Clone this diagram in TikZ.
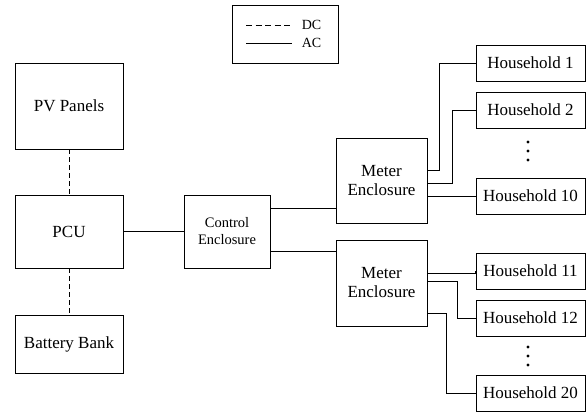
\documentclass[tikz,border=0pt]{standalone}
\usepackage{fontspec}
\setmainfont{Liberation Serif}
\usepackage{tikz}
\usetikzlibrary{positioning,calc}

\begin{document}
\begin{tikzpicture}[x=1pt, y=-1pt, line width=0.9pt,
    box/.style={rectangle, draw, minimum width=108pt, inner sep=2pt, font=\fontsize{17}{19}\selectfont, align=center},
    house/.style={rectangle, draw, minimum width=109pt, minimum height=36pt, inner sep=2pt, font=\fontsize{17}{19}\selectfont},
    dcline/.style={dash pattern=on 5pt off 3pt}]
\useasboundingbox (0,0) rectangle (587,416);

\node[box, minimum height=86pt] (pv) at (69,106) {PV Panels};
\node[box, minimum height=73pt] (pcu) at (69,231.5) {PCU};
\node[box, minimum height=58pt] (bat) at (69,344) {Battery Bank};
\node[box, minimum width=86pt, minimum height=73pt, font=\fontsize{14.5}{17}\selectfont] (ctrl) at (227,231.5) {Control\\Enclosure};
\node[box, minimum width=91pt, minimum height=85pt] (me1) at (381.5,180.5) {Meter\\Enclosure};
\node[box, minimum width=91pt, minimum height=86pt] (me2) at (381.5,283) {Meter\\Enclosure};

\node[house] (hh1) at (530.5,63) {Household 1};
\node[house] (hh2) at (530.5,110) {Household 2};
\node[house] (hh10) at (530.5,196) {Household 10};
\node[house] (hh11) at (530.5,271) {Household 11};
\node[house] (hh12) at (530.5,318) {Household 12};
\node[house] (hh20) at (530.5,393) {Household 20};

\foreach \y in {142,151,160,347,356,365}
  \fill (528,\y) circle (1.6);

\draw[dcline] (pv) -- (pcu);
\draw[dcline] (pcu) -- (bat);
\draw (pcu) -- (ctrl);

\coordinate (c1) at ($(ctrl.east)+(0,-23.5)$);
\coordinate (c2) at ($(ctrl.east)+(0,19.5)$);
\draw (c1) -- (c1 -| me1.west);
\draw (c2) -- (c2 -| me2.west);

\draw ($(me1.east)+(0,-10.5)$) -- ++(12,0) |- (hh1.west);
\draw ($(me1.east)+(0,2.5)$) -- ++(25,0) |- (hh2.west);
\draw (hh10.west -| me1.east) -- (hh10.west);

\draw ($(me2.east)+(0,-10)$) -- (hh11.west |- 0,273) -- (hh11.west);
\draw ($(me2.east)+(0,-2)$) -- ++(30,0) |- (hh12.west);
\draw ($(me2.east)+(0,30)$) -- ++(19,0) |- (hh20.west);

\node[draw, minimum width=106pt, minimum height=58pt] (legend) at (285,34) {};
\coordinate (dca) at (246,25);
\coordinate (aca) at (246,43);
\draw[dash pattern=on 6pt off 3.5pt] (dca) -- ++(46,0) node[right=6pt, font=\fontsize{14}{16}\selectfont] (dctext) {DC};
\draw (aca) -- ++(46,0) node[right=6pt, font=\fontsize{14}{16}\selectfont] (actext) {AC};
\end{tikzpicture}
\end{document}
